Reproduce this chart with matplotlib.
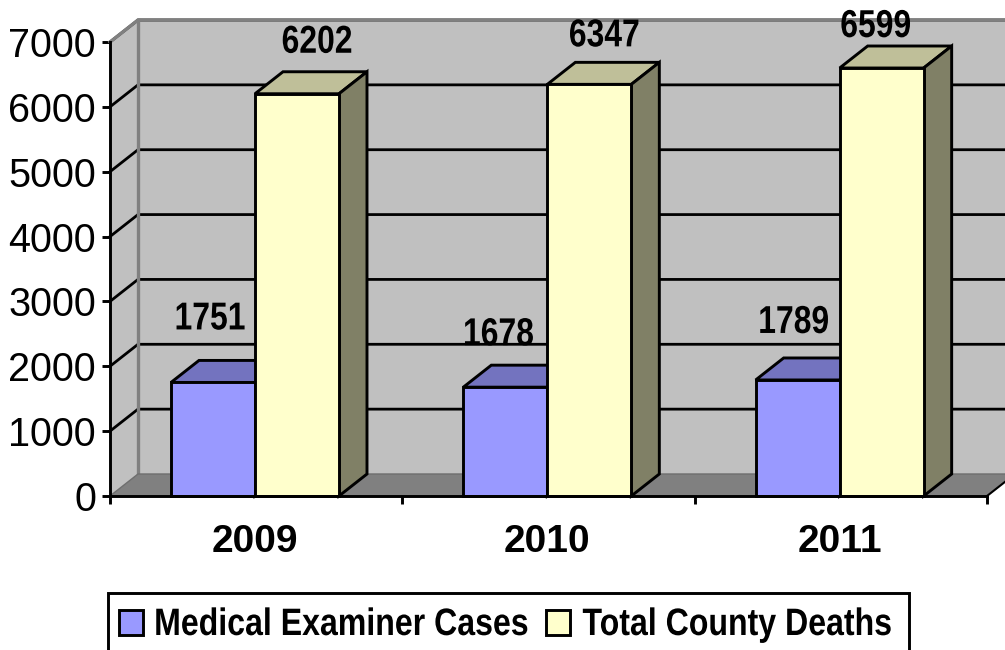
#!/usr/bin/env python3
"""Medical examiner cases vs total county deaths, old Excel style fake 3D columns"""

import matplotlib
matplotlib.use('Agg')
import matplotlib.pyplot as plt
from matplotlib.patches import Rectangle
from matplotlib.patheffects import AbstractPathEffect
from matplotlib.transforms import Affine2D

years = ['2009', '2010', '2011']
me_cases = [1751, 1678, 1789]
county_deaths = [6202, 6347, 6599]
y_ticks = [0, 1000, 2000, 3000, 4000, 5000, 6000, 7000]
series_names = ['Medical Examiner Cases', 'Total County Deaths']

# colours
WALL = '#C0C0C0'
FLOOR = '#808080'
BLUE = '#9999FF'
BLUE_TOP = '#7373BF'
YELLOW = '#FFFFCC'
YELLOW_TOP = '#BFBF99'
YELLOW_SIDE = '#808066'

LW = 2.1

plt.rcParams['font.family'] = ['Liberation Sans', 'DejaVu Sans']


class Squeeze(AbstractPathEffect):
    # no narrow Arial here, so squeeze the glyphs sideways around the text centre
    def __init__(self, sx):
        super().__init__()
        self.sx = sx

    def draw_path(self, renderer, gc, tpath, affine, rgbFace=None):
        ext = tpath.get_extents()
        cx = (ext.x0 + ext.x1) / 2
        squeeze = Affine2D().translate(-cx, 0).scale(self.sx, 1).translate(cx, 0)
        renderer.draw_path(gc, tpath, squeeze + affine, rgbFace)


fig = plt.figure(figsize=(10.05, 6.5), dpi=100)
ax = fig.add_axes([110 / 1005, (650 - 496) / 650, 877 / 1005, 454 / 650])
ax.set_xlim(0, 3)
ax.set_ylim(0, 7000)
ax.patch.set_visible(False)
for s in ['top', 'right']:
    ax.spines[s].set_visible(False)
for s in ['left', 'bottom']:
    ax.spines[s].set_linewidth(LW)
    ax.spines[s].set_zorder(12)

# depth of the fake 3D box, in data units
dx = 28 / 877 * 3
dy = 22 / 454 * 7000
bar_w = 84 / 877 * 3
x_end = 3 + dx

# walls and floor
ax.fill([dx, x_end, x_end, dx], [dy, dy, 7000 + dy, 7000 + dy], color=WALL, lw=0, zorder=1, clip_on=False)
ax.fill([0, dx, dx, 0], [0, dy, 7000 + dy, 7000], color=WALL, lw=0, zorder=1, clip_on=False)
ax.fill([0, 3, x_end, dx], [0, 0, dy, dy], color=FLOOR, lw=0, zorder=1, clip_on=False)

# gridlines on the walls
for v in y_ticks[1:]:
    ax.plot([0, dx, x_end], [v, v + dy, v + dy], color='black', lw=2, zorder=2, clip_on=False,
            solid_joinstyle='miter')

# wall borders
ax.plot([0, dx, x_end], [7000, 7000 + dy, 7000 + dy], color=FLOOR, lw=2.4, zorder=2, clip_on=False)
ax.plot([dx, dx], [dy, 7000 + dy], color=FLOOR, lw=2.4, zorder=2, clip_on=False)
ax.plot([0, dx, x_end], [0, dy, dy], color='#6E6E6E', lw=1, zorder=2, clip_on=False)
ax.plot([3, x_end], [0, dy], color='black', lw=1.5, zorder=2, clip_on=False)


def draw_bar(x0, h, front, top, side, z):
    x1 = x0 + bar_w
    ax.bar(x0, h, width=bar_w, align='edge', color=front, edgecolor='black', linewidth=LW, zorder=z + 0.2, clip_on=False)
    ax.fill([x0, x1, x1 + dx, x0 + dx], [h, h, h + dy, h + dy], facecolor=top, edgecolor='black', linewidth=LW,
            zorder=z, clip_on=False, joinstyle='miter')
    ax.fill([x1, x1 + dx, x1 + dx, x1], [0, dy, h + dy, h], facecolor=side, edgecolor='black', linewidth=LW,
            zorder=z, clip_on=False, joinstyle='miter')


for i in range(3):
    mid = i + 0.496
    draw_bar(mid - bar_w, me_cases[i], BLUE, BLUE_TOP, BLUE_TOP, 3 + i)
    draw_bar(mid, county_deaths[i], YELLOW, YELLOW_TOP, YELLOW_SIDE, 3.5 + i)

# data labels were hand placed in the original, offsets in pixels from bar top
me_offsets = [(-3, 53), (-7, 42), (-4, 47)]
cd_offsets = [(20, 41), (15, 38), (-6, 31)]
for i in range(3):
    mid = i + 0.496
    ax.annotate(str(me_cases[i]), xy=(mid - bar_w / 2, me_cases[i]), xytext=me_offsets[i], textcoords='offset pixels',
                ha='center', va='baseline', fontsize=28, fontweight='bold', zorder=20, annotation_clip=False,
                path_effects=[Squeeze(0.82)])
    ax.annotate(str(county_deaths[i]), xy=(mid + bar_w / 2, county_deaths[i]), xytext=cd_offsets[i], textcoords='offset pixels',
                ha='center', va='baseline', fontsize=28, fontweight='bold', zorder=20, annotation_clip=False,
                path_effects=[Squeeze(0.82)])

# axes
ax.set_yticks(y_ticks)
ax.tick_params(axis='y', length=6, width=LW, labelsize=28.5, pad=4)
ax.set_xticks([0, 1, 2, 3])
ax.set_xticklabels([])
ax.tick_params(axis='x', length=6, width=LW)
for i, yr in enumerate(years):
    ax.text(i + 0.496, -705, yr, ha='center', va='center', fontsize=28, fontweight='bold', clip_on=False)


# legend drawn by hand in pixel positions: its frame runs off the bottom of the picture
def px(x, y):
    return x / 1005, (650 - y) / 650


fig.add_artist(Rectangle(px(108, 665), 801 / 1005, 72 / 650, transform=fig.transFigure,
                         facecolor='white', edgecolor='black', linewidth=LW))
for x0, col in zip([119, 546], [BLUE, YELLOW]):
    fig.add_artist(Rectangle(px(x0, 635), 24 / 1005, 25 / 650, transform=fig.transFigure,
                             facecolor=col, edgecolor='black', linewidth=LW))
for name, xc in zip(series_names, [341.5, 737.5]):
    fig.text(*px(xc, 635), name, ha='center', va='baseline', fontsize=27.5, fontweight='bold',
             path_effects=[Squeeze(0.84)])

fig.savefig('out.png', dpi=100)
